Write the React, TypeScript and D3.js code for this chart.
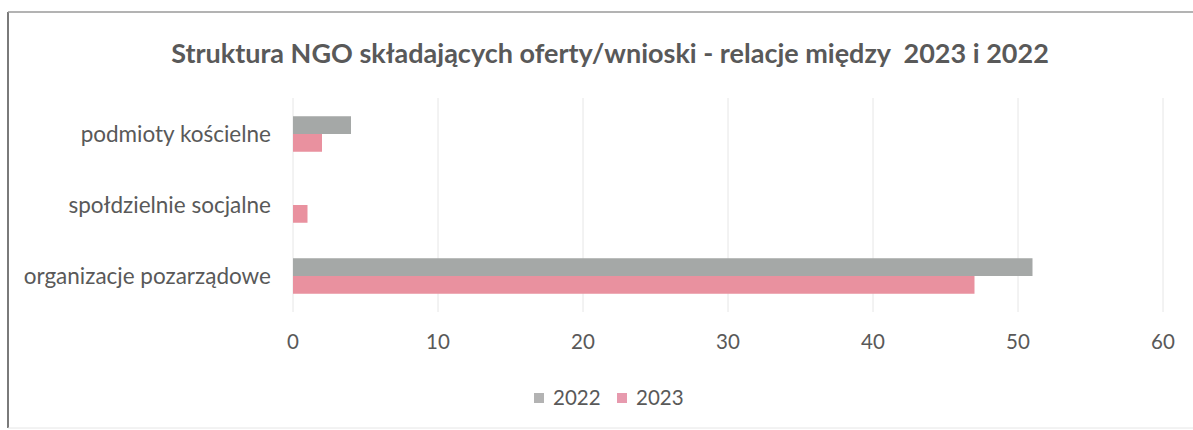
import React, { useEffect, useRef } from 'react';
import * as d3 from 'd3';

const categories = ['podmioty kościelne', 'społdzielnie socjalne', 'organizacje pozarządowe'];
const seriesNames = ['2022', '2023'];
const values2022 = [4, 0, 51];
const values2023 = [2, 1, 47];
const xTicks = [0, 10, 20, 30, 40, 50, 60];

const title = 'Struktura NGO składających oferty/wnioski - relacje między  2023 i 2022';
const colors = ['#a5a8a7', '#e9919f'];
const legendColors = ['#b3b3b3', '#e79aae'];
const textColor = '#595959';
const font = 'Lato, "Open Sans", sans-serif';

const App = () => {
  const ref = useRef<SVGSVGElement>(null);

  useEffect(() => {
    const svg = d3.select(ref.current);
    svg.selectAll('*').remove();

    // frame: left and top darker, bottom faint
    svg.append('line').attr('x1', 8).attr('x2', 8).attr('y1', 12).attr('y2', 428)
      .attr('stroke', '#7a7a7a').attr('stroke-width', 2);
    svg.append('line').attr('x1', 8).attr('x2', 1193).attr('y1', 12).attr('y2', 12)
      .attr('stroke', '#9a9a9a').attr('stroke-width', 1.5);
    svg.append('line').attr('x1', 8).attr('x2', 1193).attr('y1', 428).attr('y2', 428)
      .attr('stroke', '#e6e6e6').attr('stroke-width', 1);

    const x = d3.scaleLinear().domain([0, 60]).range([293, 1163]);
    const y = d3.scaleBand().domain(categories).range([98.5, 311.5]).paddingInner(0.5).paddingOuter(0.25);
    const inner = d3.scaleBand().domain(seriesNames).range([0, y.bandwidth()]);

    // gridlines
    svg.append('g')
      .selectAll('line')
      .data(xTicks)
      .enter()
      .append('line')
      .attr('x1', d => x(d)).attr('x2', d => x(d))
      .attr('y1', 98).attr('y2', 312)
      .attr('stroke', '#e6e6e6')
      .attr('stroke-width', 1);

    // bars
    const series = [values2022, values2023];
    series.forEach((vals, si) => {
      svg.append('g')
        .selectAll('rect')
        .data(vals)
        .enter()
        .append('rect')
        .attr('x', x(0))
        .attr('y', (d, i) => (y(categories[i]) as number) + (inner(seriesNames[si]) as number))
        .attr('width', d => x(d) - x(0))
        .attr('height', inner.bandwidth())
        .attr('fill', colors[si]);
    });

    // category labels
    svg.append('g')
      .selectAll('text')
      .data(categories)
      .enter()
      .append('text')
      .attr('x', 271)
      .attr('y', d => (y(d) as number) + y.bandwidth() / 2)
      .attr('dy', '0.35em')
      .attr('text-anchor', 'end')
      .attr('font-family', font)
      .attr('font-size', 22.5)
      .attr('fill', textColor)
      .text(d => d);

    // x tick labels
    svg.append('g')
      .selectAll('text')
      .data(xTicks)
      .enter()
      .append('text')
      .attr('x', d => x(d))
      .attr('y', 342)
      .attr('dy', '0.35em')
      .attr('text-anchor', 'middle')
      .attr('font-family', font)
      .attr('font-size', 20.5)
      .attr('fill', textColor)
      .text(d => d);

    // title (keeps the double space)
    svg.append('text')
      .attr('x', 610)
      .attr('y', 54)
      .attr('dy', '0.35em')
      .attr('text-anchor', 'middle')
      .attr('font-family', font)
      .attr('font-weight', 'bold')
      .attr('font-size', 27)
      .attr('fill', textColor)
      .style('white-space', 'pre')
      .text(title);

    // legend
    const legendX = [534, 617];
    const legend = svg.append('g');
    seriesNames.forEach((name, i) => {
      legend.append('rect')
        .attr('x', legendX[i]).attr('y', 393)
        .attr('width', 10).attr('height', 10)
        .attr('fill', legendColors[i]);
      legend.append('text')
        .attr('x', legendX[i] + 19)
        .attr('y', 398)
        .attr('dy', '0.35em')
        .attr('font-family', font)
        .attr('font-size', 20.5)
        .attr('fill', textColor)
        .text(name);
    });
  }, []);

  return (
    <svg
      ref={ref}
      width={1193}
      height={430}
      style={{ position: 'absolute', left: 0, top: 0, background: '#fff' }}
    />
  );
};

export default App;
